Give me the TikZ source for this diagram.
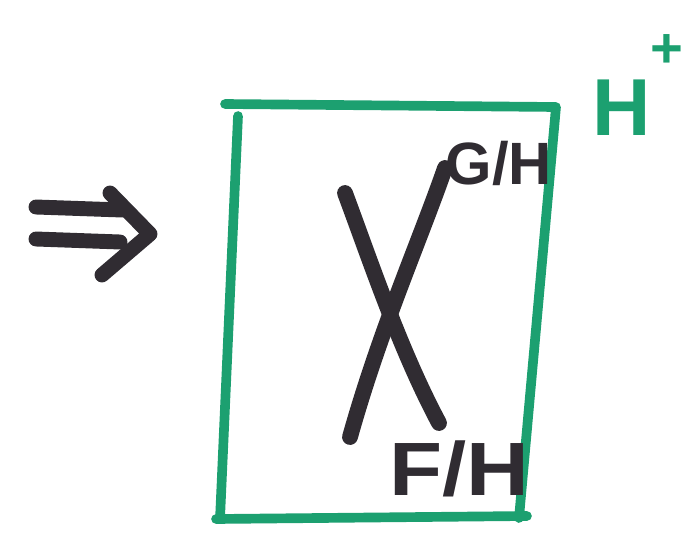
\documentclass[tikz,border=0pt]{standalone}
\usepackage{fontspec}
\setmainfont{Liberation Sans}
\definecolor{markergreen}{RGB}{28,160,112}
\definecolor{markerblack}{RGB}{48,44,50}
\tikzset{
  boxedge/.style={line width=5.5pt, markergreen, line cap=round, line join=round},
  chromo/.style={line width=9pt, markerblack, line cap=round},
  arrowbar/.style={line width=8.5pt, markerblack, line cap=round, line join=round},
  blacklabel/.style={inner sep=0pt, text=markerblack, font=\bfseries},
  greenlabel/.style={inner sep=0pt, text=markergreen, font=\bfseries}
}
\begin{document}
\begin{tikzpicture}[x=0.02cm, y=-0.02cm]
  \useasboundingbox (0,0) rectangle (684,538);

  % the implies sign on the left
  \draw[arrowbar] (36,207) -- (122,210);
  \draw[arrowbar] (36,239) -- (120,242);
  \draw[arrowbar] (110,193) -- (150,234) -- (102,275);

  % green box
  \coordinate (tl) at (225,104);
  \coordinate (tr) at (556,107);
  \coordinate (br) at (519,518);
  \coordinate (bl) at (216,519);
  \draw[boxedge] (tl) -- (tr) -- (br);
  \draw[boxedge] (238,116) -- (220,519);
  \draw[boxedge] (bl) -- (527,516);

  % chromosome
  \draw[chromo] (345,193) .. controls (370,260) and (400,350) .. (439,423);
  \draw[chromo] (445,168) .. controls (420,240) and (380,330) .. (350,437);

  % labels
  \node[blacklabel] (gh) at (499,163) {\fontsize{34}{34}\selectfont G/H};
  \node[blacklabel, xscale=1.15] (fh) at (459,469) {\fontsize{43}{43}\selectfont F/H};
  \node[greenlabel, anchor=west] (hplus) at (592,85)
    {\fontsize{46}{46}\selectfont H\raisebox{0.85em}{\fontsize{32}{32}\selectfont +}};
\end{tikzpicture}
\end{document}
